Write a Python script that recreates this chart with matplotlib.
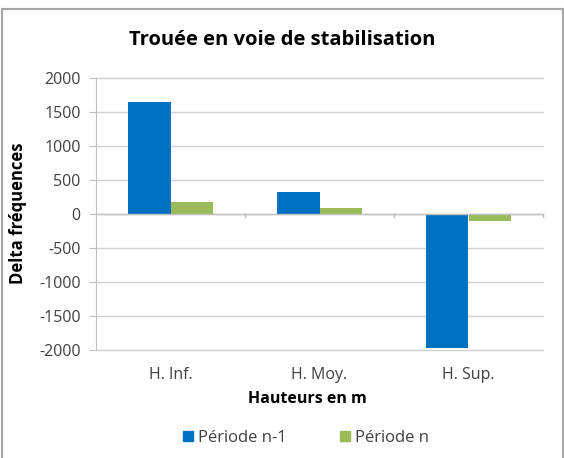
import matplotlib
matplotlib.use("Agg")
import matplotlib.pyplot as plt
from matplotlib.patches import Rectangle, Patch
import numpy as np

categories = ["H. Inf.", "H. Moy.", "H. Sup."]
series_names = ["Période n-1", "Période n"]
periode_n1 = [1650, 330, -1970]
periode_n = [180, 90, -100]
yticks = [2000, 1500, 1000, 500, 0, -500, -1000, -1500, -2000]

W, H = 564, 458
plt.rcParams['font.family'] = ['Open Sans', 'DejaVu Sans']
fig = plt.figure(figsize=(W/100, H/100), dpi=100)

# outer frame
fig.patches.append(Rectangle((2/W, -0.01), (561)/W, (H-9)/H + 0.01, transform=fig.transFigure,
                             fill=False, edgecolor='#a6a6a6', lw=1.5))

ax = fig.add_axes([96/W, (H-350)/H, (543-96)/W, (350-78)/H])
x = np.arange(len(categories))
bw = 0.285
ax.bar(x - bw/2, periode_n1, bw, color='#0070C0', zorder=3)
ax.bar(x + bw/2, periode_n, bw, color='#9BBB59', zorder=3)

ax.set_xlim(-0.5, 2.5)
ax.set_ylim(-2000, 2000)
ax.set_yticks(yticks)
ax.set_yticklabels([str(v) for v in yticks], color='#404040', fontsize=11.5)
for v in yticks:
    ax.axhline(v, color='#d0d0d0', lw=1, zorder=0, clip_on=False)
for s in ['top', 'right', 'bottom']:
    ax.spines[s].set_visible(False)
ax.spines['left'].set_color('#bfbfbf')
ax.tick_params(axis='y', length=5, color='#bfbfbf', pad=6)

# zero axis line with category boundary ticks
ax.axhline(0, color='#bfbfbf', lw=1, zorder=4)
for b in [0.5, 1.5, 2.5]:
    ax.plot([b, b], [0, -45], color='#bfbfbf', lw=1, zorder=4, clip_on=False)

ax.set_xticks(x)
ax.set_xticklabels([])
ax.tick_params(axis='x', length=0)
for xi, c in zip(x, categories):
    ax.annotate(c, xy=(xi, -2000), xycoords='data', xytext=(0, -12), textcoords='offset points',
                ha='center', va='top', fontsize=11.5, color='#404040', annotation_clip=False)

fig.text(307/W, 1 - 399/H, "Hauteurs en m", ha='center', va='center', fontsize=11.5,
         fontweight='bold', color='#000000')
fig.text(18/W, 1 - 213/H, "Delta fréquences", ha='center', va='center', rotation=90,
         fontsize=12, fontweight='bold', color='#000000')
fig.text(282/W, 1 - 40/H, "Trouée en voie de stabilisation", ha='center', va='center',
         fontsize=14.5, fontweight='bold', color='#000000')

handles = [Patch(color='#0070C0'), Patch(color='#9BBB59')]
fig.legend(handles, series_names, loc='center', bbox_to_anchor=(306/W, 1 - 438/H),
           ncol=2, frameon=False, fontsize=12, handlelength=0.6, handleheight=0.6,
           columnspacing=3.2, handletextpad=0.3, labelcolor='#404040')

fig.savefig("out.png", dpi=100)
